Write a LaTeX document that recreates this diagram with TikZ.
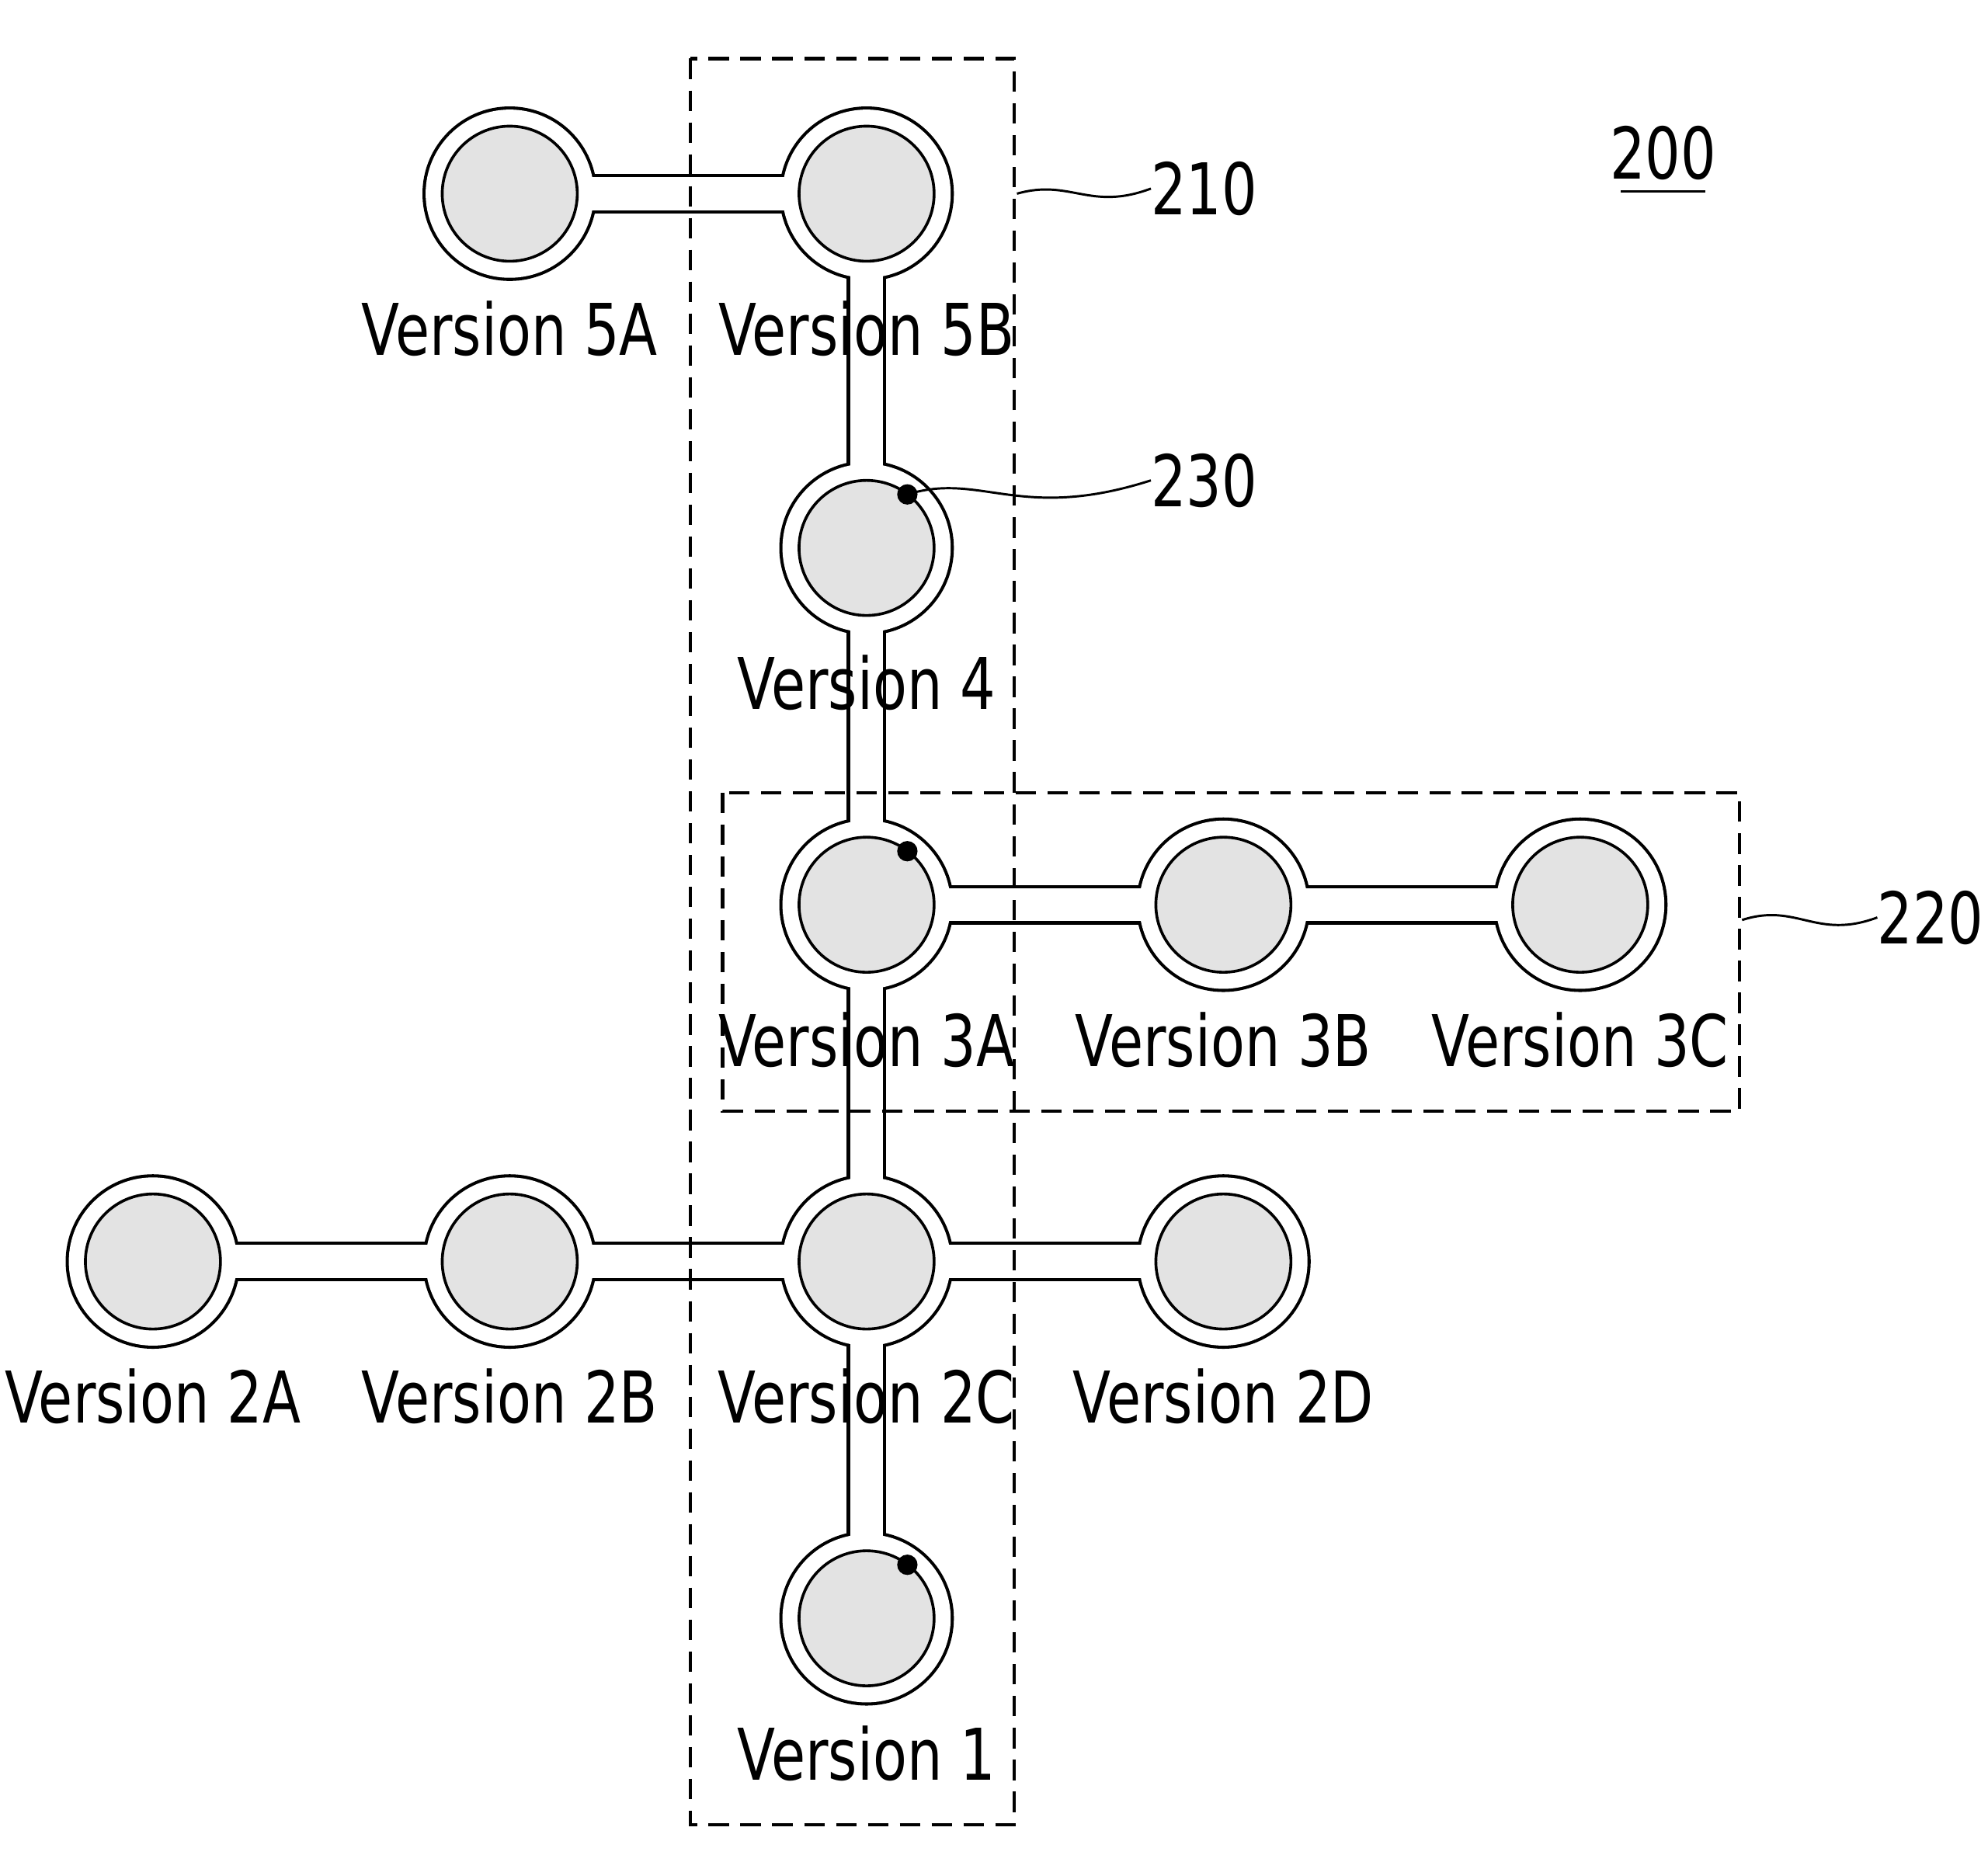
\documentclass[tikz,border=0pt]{standalone}
\usepackage{fontspec}
\usetikzlibrary{calc}
\setmainfont{DejaVu Sans}[FakeStretch=0.78]
\begin{document}
\begin{tikzpicture}[x=1pt,y=-1pt,
  lbl/.style={font=\fontsize{56}{60}\selectfont,inner sep=0pt,anchor=center},
  inner/.style={circle,minimum size=106pt,inner sep=0pt,draw=black,line width=2.2pt,fill=gray!22},
  dot/.style={circle,fill=black,inner sep=0pt,minimum size=16pt},
  box/.style={dashed,dash pattern=on 16pt off 9pt,line width=2.5pt},
  lead/.style={line width=1.8pt}]
\useasboundingbox (0,0) rectangle (1560,1472);
\coordinate (v5A) at (400,152); \coordinate (v5B) at (680,152);
\coordinate (v4) at (680,430); \coordinate (v3A) at (680,710);
\coordinate (v3B) at (960,710); \coordinate (v3C) at (1240,710);
\coordinate (v2A) at (120,990); \coordinate (v2B) at (400,990);
\coordinate (v2C) at (680,990); \coordinate (v2D) at (960,990);
\coordinate (v1) at (680,1270);
\draw[line width=31pt] (v5A)--(v5B)--(v4)--(v3A)--(v2C)--(v1) (v3A)--(v3C) (v2A)--(v2D);
\foreach \v in {v5A,v5B,v4,v3A,v3B,v3C,v2A,v2B,v2C,v2D,v1} \fill (\v) circle (68.5);
\draw[white,line width=26pt] (v5A)--(v5B)--(v4)--(v3A)--(v2C)--(v1) (v3A)--(v3C) (v2A)--(v2D);
\foreach \v in {v5A,v5B,v4,v3A,v3B,v3C,v2A,v2B,v2C,v2D,v1} \fill[white] (\v) circle (66);
\foreach \v/\t in {v5A/5A,v5B/5B,v4/4,v3A/3A,v3B/3B,v3C/3C,v2A/2A,v2B/2B,v2C/2C,v2D/2D,v1/1}{
  \node[inner] (c\t) at (\v) {};
  \node[lbl] (l\t) at ($(\v)+(0,106)$) {Version \t};
}
\draw[box] (542,46) rectangle (796,1432);
\draw[box] (567,622) rectangle (1365,872);
\node[dot] (d1) at (712,388) {};
\node[dot] (d2) at (712,668) {};
\node[dot] (d3) at (712,1228) {};
\node[lbl] (n210) at (945,148) {210};
\node[lbl] (n230) at (945,377) {230};
\node[lbl] (n220) at (1515,720) {220};
\node[lbl] (n200) at (1305,120) {200};
\draw[line width=1.8pt] (1272,150) -- (1338,150);
\draw[lead] (798,152) .. controls (840,140) and (855,166) .. (n210.west);
\draw[lead] (d1.center) .. controls (770,370) and (800,410) .. (n230.west);
\draw[lead] (1367,722) .. controls (1410,708) and (1425,738) .. (n220.west);
\end{tikzpicture}
\end{document}
